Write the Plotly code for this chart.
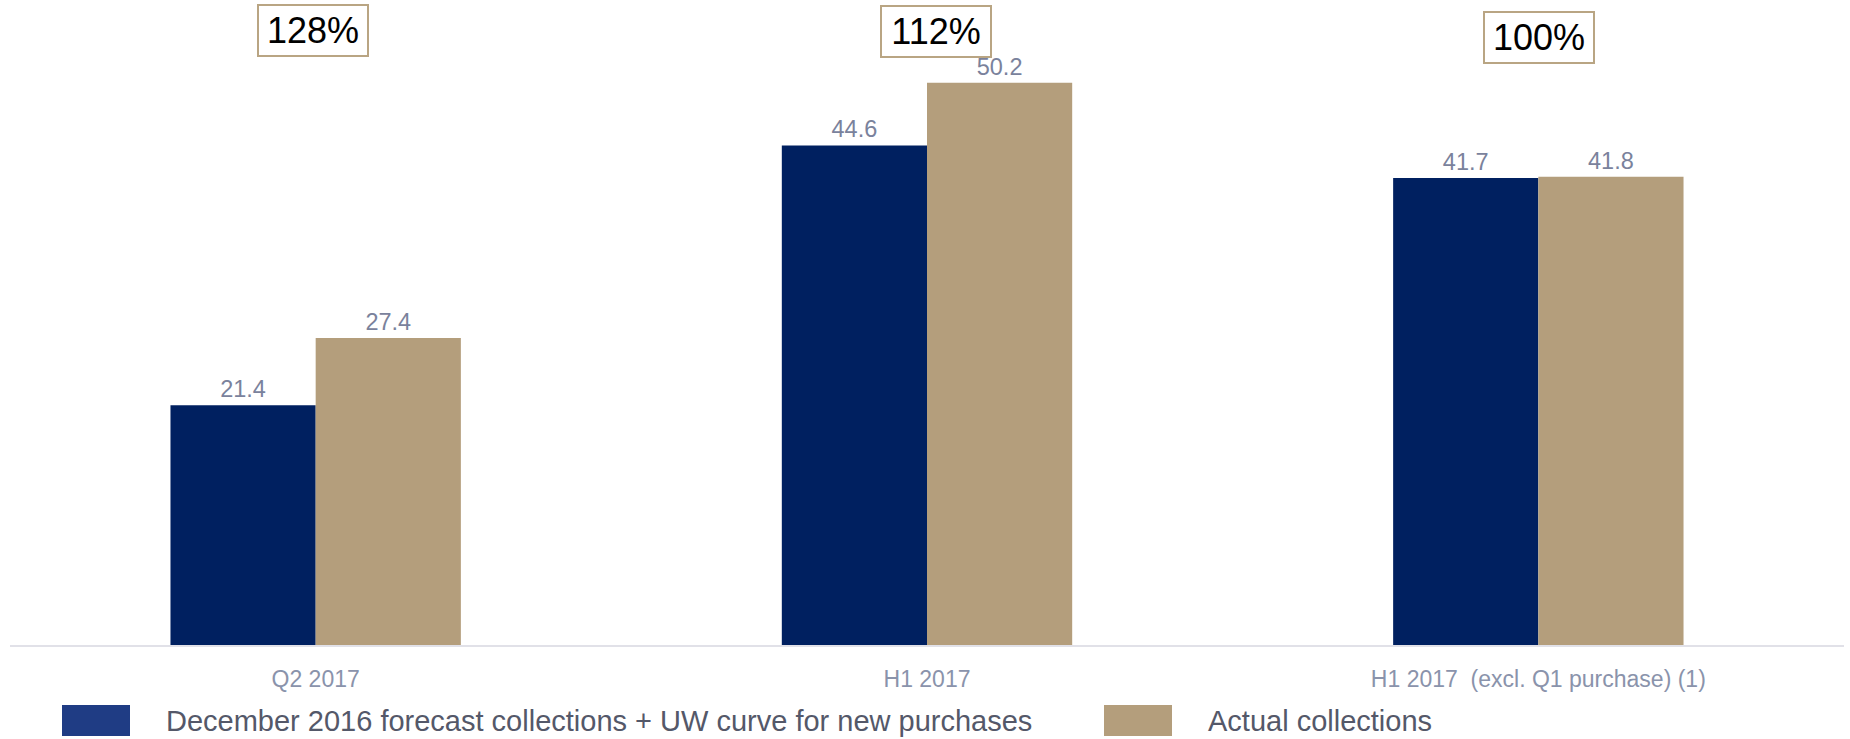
import plotly.graph_objects as go

# ---- data ----
categories = ["Q2 2017", "H1 2017", "H1 2017 \u00a0(excl. Q1 purchase) (1)"]
forecast = [21.4, 44.6, 41.7]
actual = [27.4, 50.2, 41.8]
forecast_labels = ["21.4", "44.6", "41.7"]
actual_labels = ["27.4", "50.2", "41.8"]
pct_labels = ["128%", "112%", "100%"]
series_names = ["December 2016 forecast collections + UW curve for new purchases",
                "Actual collections"]

# ---- style ----
W, H = 1850, 739
ML, MR, MT, MB = 10, 6, 10, 94
NAVY = "#002060"
GOLD = "#B49E7C"
LEG_NAVY = "#1F3C84"
TICK_C = "#8A93AB"
LBL_C = "#7A829C"
LEG_TXT = "#545869"
FONT = "Liberation Sans, Arial, sans-serif"

plot_w = W - ML - MR
plot_h = H - MT - MB
px_per_unit = 11.2
ymax = plot_h / px_per_unit

def px_x(p):
    return (p - ML) / plot_w

def px_y(p):
    return (H - MB - p) / plot_h

fig = go.Figure()
fig.add_trace(go.Bar(
    x=categories, y=forecast, name=series_names[0], marker_color=NAVY,
    marker_line_width=0, text=forecast_labels, textposition="outside",
    textfont=dict(size=23.5, color=LBL_C, family=FONT), cliponaxis=False,
))
fig.add_trace(go.Bar(
    x=categories, y=actual, name=series_names[1], marker_color=GOLD,
    marker_line_width=0, text=actual_labels, textposition="outside",
    textfont=dict(size=23.5, color=LBL_C, family=FONT), cliponaxis=False,
))

# percentage boxes
pct_y_px = [30.5, 31.5, 37.5]
pct_xshift = [-3, 9, 1]
for cat, lab, yp, xs in zip(categories, pct_labels, pct_y_px, pct_xshift):
    fig.add_annotation(
        x=cat, xref="x", y=px_y(yp), yref="paper", text=lab, showarrow=False,
        font=dict(size=36, color="#000000", family=FONT),
        bgcolor="white", bordercolor="#B9A583", borderwidth=2, borderpad=1,
        width=106, height=47, xshift=xs, yanchor="middle", xanchor="center",
    )

# custom legend
legend_items = [
    (series_names[0], LEG_NAVY, 62, 130, 164),
    (series_names[1], GOLD, 1104, 1172, 1206),
]
for name, col, x0, x1, tx in legend_items:
    fig.add_shape(type="rect", xref="paper", yref="paper",
                  x0=px_x(x0), x1=px_x(x1), y0=px_y(736), y1=px_y(705),
                  fillcolor=col, line_width=0)
    fig.add_annotation(x=px_x(tx), y=px_y(720.5), xref="paper", yref="paper",
                       text=name, showarrow=False, xanchor="left", yanchor="middle",
                       font=dict(size=29, color=LEG_TXT, family=FONT))

fig.update_layout(
    width=W, height=H,
    margin=dict(l=ML, r=MR, t=MT, b=MB),
    barmode="group", bargap=0.525, bargroupgap=0,
    plot_bgcolor="white", paper_bgcolor="white",
    showlegend=False,
    font=dict(family=FONT),
)
fig.update_xaxes(
    showline=True, linecolor="#E1E1E8", linewidth=2, showgrid=False,
    ticks="", tickfont=dict(size=23, color=TICK_C, family=FONT),
    ticklabelstandoff=12,
    range=[-0.5, 2.5],
)
fig.update_yaxes(visible=False, range=[0, ymax], showgrid=False, zeroline=False)

fig.write_html("out.html")
